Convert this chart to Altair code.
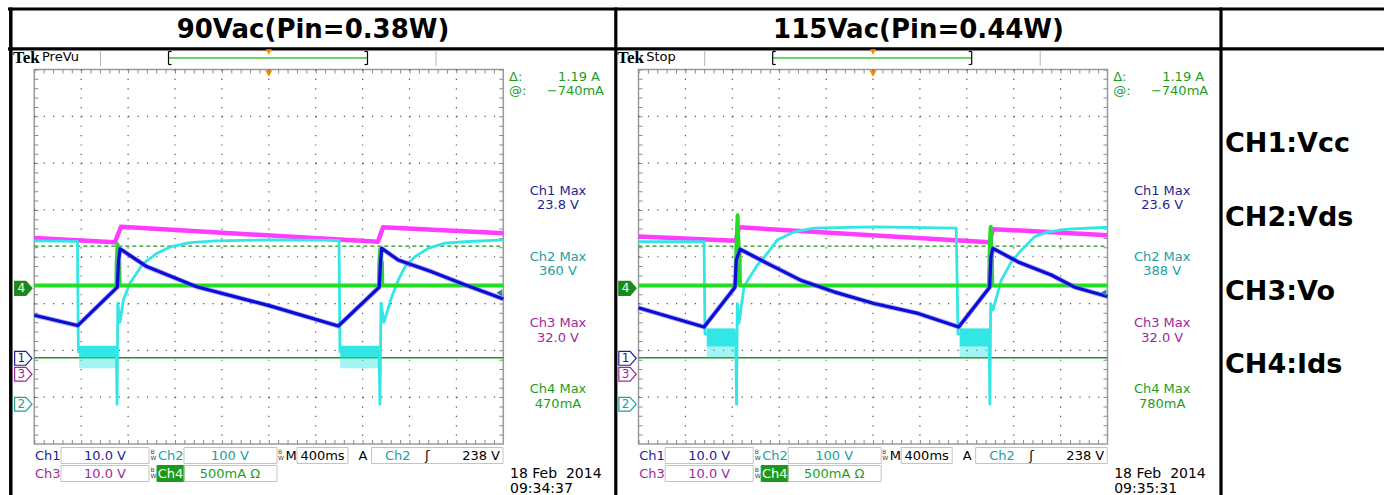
import altair as alt
import pandas as pd

W, H = 1384, 495

SANS = "DejaVu Sans"
SERIF = "Liberation Serif"

# ---------------------------------------------------------------- scope setup
T_SPAN = [-2000, 2000]                       # ms, 400 ms/div over 10 divisions
TIME_PER_DIV_MS = 400
GRID_T = [-1600, -1200, -800, -400, 0, 400, 800, 1200, 1600]
GRID_DIV = [-3, -2, -1, 0, 1, 2, 3]
CH_PER_DIV = {"ch1": 10, "ch2": 100, "ch3": 10, "ch4": 500}        # V/div (ch4: mA/div)
CH_GROUND = {"ch1": -2.17, "ch2": -3.15, "ch3": -2.51, "ch4": -0.675}  # divisions from centre
TRIG_LEVEL_V = 238
CURSOR_AT_MA = -740
CURSOR_DELTA_MA = 1190

TITLES = ["90Vac(Pin=0.38W)", "115Vac(Pin=0.44W)"]
STATUS = ["PreVu", "Stop"]
STAMP_DATE = ["18 Feb\u00a0 2014", "18 Feb\u00a0 2014"]
STAMP_TIME = ["09:34:37", "09:35:31"]
MAX_VALUES = [["23.8 V", "360 V", "32.0 V", "470mA"],
              ["23.6 V", "388 V", "32.0 V", "780mA"]]
LEGEND = ["CH1:Vcc", "CH2:Vds", "CH3:Vo", "CH4:Ids"]

# ---------------------------------------------------------------- 90 Vac traces
P1_CH1_T = [-2000, -1630, -1292, -1282, -1269, -1041, -615, 10, 593, 942, 953, 963, 1104, 1389, 1673, 2000]
P1_CH1_V = [9.2, 7.0, 15.2, 20.6, 23.4, 19.6, 15.3, 11.2, 6.9, 15.2, 20.6, 23.5, 21.0, 18.5, 15.7, 12.7]

P1_CH2_T = [-2000, -1632, -1624, -1300, -1294, -1288, -1269, -1241, -1184, -1070, -956, -843, -672, -444,
            10, 599, 607, 940, 948, 957, 982, 1048, 1104, 1162, 1247, 1360, 1503, 1673, 2000]
P1_CH2_V = [349, 348, 112, 112, 0, 216, 175, 222, 259, 301, 322, 336, 345, 349,
            351, 350, 112, 112, 0, 216, 175, 229, 265, 294, 315, 333, 344, 347, 351]
P1_BURST_START = [-1618, 609]
P1_BURST_END = [-1298, 944]
P1_BURST_HI, P1_BURST_MID, P1_BURST_LO = 125, 101, 77

P1_CH3_T = [-2000, -1312, -1261, 931, 974, 2000]
P1_CH3_V = [29.1, 28.2, 31.5, 28.3, 31.4, 30.1]

P1_CH4_T = [-2000, -1300, -1297, -1290, -1284, -1275, -1272, 940, 943, 950, 957, 965, 968, 2000]
P1_CH4_MA = [30, 30, 280, 470, 280, 280, 30, 30, 280, 420, 280, 280, 30, 30]

# ---------------------------------------------------------------- 115 Vac traces
P2_CH1_T = [-2000, -1441, -1177, -1166, -1134, -902, -617, -333, 9, 384, 731, 995, 1006, 1023, 1237, 1521, 1720, 2000]
P2_CH1_V = [10.8, 6.7, 15.2, 21.0, 23.3, 20.3, 16.7, 14.2, 11.7, 9.6, 6.7, 15.2, 21.7, 23.5, 20.6, 17.8, 15.2, 13.2]

P2_CH2_T = [-2000, -1441, -1433, -1171, -1164, -1157, -1143, -1100, -1058, -987, -902, -816, -674, -503,
            9, 710, 725, 990, 997, 1004, 1023, 1094, 1180, 1265, 1379, 1493, 1663, 2000]
P2_CH2_V = [347, 347, 150, 150, 0, 215, 173, 251, 269, 297, 322, 351, 368, 376,
            379, 376, 150, 150, 0, 215, 201, 265, 304, 329, 358, 368, 374, 378]
P2_BURST_START = [-1418, 739]
P2_BURST_END = [-1171, 995]
P2_BURST_HI, P2_BURST_MID, P2_BURST_LO = 162, 123, 100

P2_CH3_T = [-2000, -1171, -1143, 995, 1023, 2000]
P2_CH3_V = [29.4, 28.5, 31.4, 28.2, 31.0, 29.7]

P2_CH4_T = [-2000, -1170, -1166, -1155, -1145, -1138, -1135, 990, 994, 1003, 1010, 1014, 1017, 2000]
P2_CH4_MA = [30, 30, 400, 780, 400, 400, 30, 30, 350, 655, 350, 350, 30, 30]

PANELS = [
    dict(ch1=(P1_CH1_T, P1_CH1_V), ch2=(P1_CH2_T, P1_CH2_V), ch3=(P1_CH3_T, P1_CH3_V),
         ch4=(P1_CH4_T, P1_CH4_MA), burst=(P1_BURST_START, P1_BURST_END, P1_BURST_HI, P1_BURST_MID, P1_BURST_LO)),
    dict(ch1=(P2_CH1_T, P2_CH1_V), ch2=(P2_CH2_T, P2_CH2_V), ch3=(P2_CH3_T, P2_CH3_V),
         ch4=(P2_CH4_T, P2_CH4_MA), burst=(P2_BURST_START, P2_BURST_END, P2_BURST_HI, P2_BURST_MID, P2_BURST_LO)),
]

# ---------------------------------------------------------------- layout & colours
GRAT_TOP, GRAT_BOT = 69.5, 444.0
PANEL_LEFT = [34.3, 638.5]
PANEL_WIDTH = 469.0
COL_CENTERS = [313.0, 918.5]

C1, C1_HALO, C2, C3, C4 = "#0c0cd8", "#7878f0", "#33e6e6", "#ff3cff", "#22dd22"
T1, T2, T3, T4 = "#1e1e96", "#22a0a0", "#a0289e", "#1e9e1e"
CURSOR = "#179a17"
BOX = "#c4c4c4"
TAG = "M-1,-0.8 L0.3,-0.8 L1,0 L0.3,0.8 L-1,0.8 Z"

ONE = pd.DataFrame({"k": [0]})
DIV_SCALE = alt.Scale(domain=[-4, 4], range=[GRAT_BOT, GRAT_TOP], nice=False, zero=False)


def y_scale(ch):
    g, s = CH_GROUND[ch], CH_PER_DIV[ch]
    return alt.Scale(domain=[(-4 - g) * s, (4 - g) * s], range=[GRAT_BOT, GRAT_TOP], nice=False, zero=False)


def text(s, x, y, size=13, color="black", align="left", font=SANS, weight="normal"):
    return alt.Chart(pd.DataFrame({"s": [s]})).mark_text(
        align=align, baseline="middle", fontSize=size, font=font, fontWeight=weight, color=color
    ).encode(x=alt.value(x), y=alt.value(y), text="s:N")


def hline(x0, x1, y, color, width=1.0, dash=None):
    kw = dict(color=color, strokeWidth=width)
    if dash:
        kw["strokeDash"] = dash
    return alt.Chart(ONE).mark_rule(**kw).encode(x=alt.value(x0), x2=alt.value(x1), y=alt.value(y))


def vline(x, y0, y1, color, width=1.0, dash=None):
    kw = dict(color=color, strokeWidth=width)
    if dash:
        kw["strokeDash"] = dash
    return alt.Chart(ONE).mark_rule(**kw).encode(x=alt.value(x), y=alt.value(y0), y2=alt.value(y1))


def box(x0, x1, y0, y1, stroke, fill=None, width=1.0):
    kw = dict(stroke=stroke, strokeWidth=width)
    if fill:
        kw.update(fill=fill, fillOpacity=1)
    else:
        kw.update(fillOpacity=0)
    return alt.Chart(ONE).mark_rect(**kw).encode(
        x=alt.value(x0), x2=alt.value(x1), y=alt.value(y0), y2=alt.value(y1))


def bw_flag(x, y):
    # small stacked "B"/"W" bandwidth-limit flag
    return [text("B", x, y - 3.5, size=6, color="#404040", align="center"),
            text("W", x + 1, y + 2.5, size=6, color="#404040", align="center")]


def trace(xs, ch, t, v, color, width, opacity=1.0):
    df = pd.DataFrame({"t": t, "v": v})
    return alt.Chart(df).mark_line(color=color, strokeWidth=width, opacity=opacity,
                                   strokeJoin="round", interpolate="linear").encode(
        x=alt.X("t:Q", scale=xs, axis=None),
        y=alt.Y("v:Q", scale=y_scale(ch), axis=None),
    )


layers = []

# ---------------------------------------------------------------- table frame
layers += [
    hline(8, W, 9, "black", 3.2),
    hline(8, W, 48.8, "black", 3.2),
    vline(10.8, 7.5, H, "black", 3.5),
    vline(615.8, 7.5, H, "black", 3.2),
    vline(1221, 7.5, H, "black", 3.2),
]
for i, title in enumerate(TITLES):
    layers.append(text(title, COL_CENTERS[i], 29.5, size=26, align="center", weight="bold"))
for k, lab in enumerate(LEGEND):
    layers.append(text(lab, 1225, 144 + 73.8 * k, size=27, weight="bold"))


# ---------------------------------------------------------------- one scope screen
def panel(i, d):
    dx = PANEL_LEFT[i] - PANEL_LEFT[0]
    x0 = PANEL_LEFT[i]
    x1 = x0 + PANEL_WIDTH
    xs = alt.Scale(domain=T_SPAN, range=[x0, x1], nice=False, zero=False)
    L = []

    # status bar
    L.append(text("Tek", 13 + dx, 57.5, size=17, font=SERIF, weight="bold"))
    L.append(text(STATUS[i], 42 + dx, 57, size=13))
    L.append(vline(100.5 + dx, 50.5, 66, "#b4b4b4"))
    L.append(vline(436 + dx, 50.5, 66, "#b4b4b4"))
    L.append(hline(169 + dx, 367 + dx, 58, "#6fcf6f", 2))
    for bx, sx in ((168.5, 171.5), (367.5, 364.5)):
        L.append(vline(bx + dx, 51.5, 64.5, "black", 1.2))
        L.append(hline(bx + dx, sx + dx, 51.5, "black", 1.2))
        L.append(hline(bx + dx, sx + dx, 64.5, "black", 1.2))
    trig = alt.Chart(pd.DataFrame({"t": [0]}))
    L.append(trig.mark_point(shape="triangle-down", filled=True, color="#ff8a00", size=40, opacity=1)
             .encode(x=alt.X("t:Q", scale=xs, axis=None), y=alt.value(52)))
    L.append(trig.mark_point(shape="triangle-down", filled=True, color="#ff8a00", size=55, opacity=1)
             .encode(x=alt.X("t:Q", scale=xs, axis=None), y=alt.value(GRAT_TOP + 4)))

    # graticule
    L.append(box(x0, x1, GRAT_TOP, GRAT_BOT, "#9a9a9a", width=1.5))
    L.append(hline(x0, x1, GRAT_TOP + 2, "#8a8a8a", 4, dash=[1, 8.38]))
    L.append(hline(x0, x1, GRAT_BOT - 2, "#8a8a8a", 4, dash=[1, 8.38]))
    L.append(vline(x0 + 2, GRAT_TOP, GRAT_BOT, "#8a8a8a", 4, dash=[1, 8.36]))
    L.append(vline(x1 - 2, GRAT_TOP, GRAT_BOT, "#8a8a8a", 4, dash=[1, 8.36]))
    L.append(alt.Chart(pd.DataFrame({"t": GRID_T})).mark_rule(color="#505050", strokeWidth=1.2, strokeDash=[1.2, 8.16])
             .encode(x=alt.X("t:Q", scale=xs, axis=None), y=alt.value(GRAT_TOP), y2=alt.value(GRAT_BOT)))
    L.append(alt.Chart(pd.DataFrame({"d": GRID_DIV})).mark_rule(color="#505050", strokeWidth=1.2, strokeDash=[1.2, 8.18])
             .encode(y=alt.Y("d:Q", scale=DIV_SCALE, axis=None), x=alt.value(x0), x2=alt.value(x1)))

    # current cursors on Ch4
    L.append(alt.Chart(pd.DataFrame({"ma": [CURSOR_AT_MA]})).mark_rule(color=CURSOR, strokeWidth=1.5)
             .encode(y=alt.Y("ma:Q", scale=y_scale("ch4"), axis=None), x=alt.value(x0), x2=alt.value(x1)))
    L.append(alt.Chart(pd.DataFrame({"ma": [CURSOR_AT_MA + CURSOR_DELTA_MA]}))
             .mark_rule(color=CURSOR, strokeWidth=1.2, strokeDash=[4, 3])
             .encode(y=alt.Y("ma:Q", scale=y_scale("ch4"), axis=None), x=alt.value(x0), x2=alt.value(x1)))

    # traces
    L.append(trace(xs, "ch3", *d["ch3"], C3, 4.5))
    b0, b1, hi, mid, lo = d["burst"]
    bursts = pd.DataFrame({"t0": b0, "t1": b1, "hi": [hi] * len(b0), "mid": [mid] * len(b0), "lo": [lo] * len(b0)})
    L.append(alt.Chart(bursts).mark_rect(color=C2, opacity=1).encode(
        x=alt.X("t0:Q", scale=xs, axis=None), x2="t1:Q",
        y=alt.Y("hi:Q", scale=y_scale("ch2"), axis=None), y2="mid:Q"))
    L.append(alt.Chart(bursts).mark_rect(color=C2, opacity=0.45).encode(
        x=alt.X("t0:Q", scale=xs, axis=None), x2="t1:Q",
        y=alt.Y("mid:Q", scale=y_scale("ch2"), axis=None), y2="lo:Q"))
    L.append(trace(xs, "ch2", *d["ch2"], C2, 2.8))
    L.append(trace(xs, "ch4", *d["ch4"], C4, 4))
    L.append(trace(xs, "ch1", *d["ch1"], C1_HALO, 5, 0.6))
    L.append(trace(xs, "ch1", *d["ch1"], C1, 3.2))

    # channel ground markers
    for ch, lab, stroke, fill, tcol in (("ch4", "4", "#1a8a1a", "#1a8a1a", "white"),
                                        ("ch1", "1", T1, "white", T1),
                                        ("ch3", "3", T3, "white", T3),
                                        ("ch2", "2", T2, "white", T2)):
        g = alt.Chart(pd.DataFrame({"v": [0], "s": [lab]})).encode(
            x=alt.value(x0 - 11), y=alt.Y("v:Q", scale=y_scale(ch), axis=None))
        L.append(g.mark_point(shape=TAG, size=300, filled=True, color=fill, stroke=stroke,
                              strokeWidth=1.2, opacity=1))
        L.append(g.mark_text(fontSize=12, font=SANS, color=tcol, dx=-2, baseline="middle").encode(text="s:N"))

    # trigger level marker
    L.append(alt.Chart(pd.DataFrame({"v": [TRIG_LEVEL_V]})).mark_point(
        shape="triangle-left", filled=True, color="#1d8d8d", size=45, opacity=1).encode(
        x=alt.value(x1 - 4), y=alt.Y("v:Q", scale=y_scale("ch2"), axis=None)))

    # cursor readout
    L.append(text("\u0394:", 509 + dx, 76.5, color=T4))
    L.append(text(f"{CURSOR_DELTA_MA / 1000:.2f} A", 600 + dx, 76.5, color=T4, align="right"))
    L.append(text("@:", 509 + dx, 91, color=T4))
    L.append(text(f"\u2212{abs(CURSOR_AT_MA)}mA", 604 + dx, 91, color=T4, align="right"))

    # max measurements
    for k, (col, val) in enumerate(zip((T1, T2, T3, T4), MAX_VALUES[i])):
        y = 190.7 + 66.2 * k
        L.append(text(f"Ch{k + 1} Max", 558 + dx, y, color=col, align="center"))
        L.append(text(val, 558 + dx, y + 14.5, color=col, align="center"))

    # bottom settings bar
    r1, r2 = 455.5, 473.5
    L += [
        text("Ch1", 35 + dx, r1, color=T1),
        box(61 + dx, 149 + dx, 447.5, 463.5, BOX),
        text(f"{CH_PER_DIV['ch1']:.1f} V", 105 + dx, r1, color=T1, align="center"),
        text("Ch2", 158 + dx, r1, color=T2),
        box(184 + dx, 277 + dx, 447.5, 463.5, BOX),
        text(f"{CH_PER_DIV['ch2']} V", 230 + dx, r1, color=T2, align="center"),
        text("M", 285.5 + dx, r1),
        box(297 + dx, 348 + dx, 447.5, 463.5, BOX),
        text(f"{TIME_PER_DIV_MS}ms", 322.5 + dx, r1, align="center"),
        text("A", 363 + dx, r1, align="center"),
        box(371.5 + dx, 503 + dx, 447.5, 463.5, BOX),
        text("Ch2", 385 + dx, r1, color=T2),
        text("\u0283", 425 + dx, r1),
        text(f"{TRIG_LEVEL_V} V", 500 + dx, r1, align="right"),
        text("Ch3", 35 + dx, r2, color=T3),
        box(61 + dx, 149 + dx, 465.5, 481.5, BOX),
        text(f"{CH_PER_DIV['ch3']:.1f} V", 105 + dx, r2, color=T3, align="center"),
        box(157 + dx, 184 + dx, 465.5, 481.5, "#1a9a1a", fill="#1a9a1a"),
        text("Ch4", 170.5 + dx, r2, color="white", align="center"),
        box(184 + dx, 277 + dx, 465.5, 481.5, BOX),
        text(f"{CH_PER_DIV['ch4']}mA \u03a9", 230 + dx, r2, color=T4, align="center"),
        text(STAMP_DATE[i], 510 + dx, 473.5, size=14),
        text(STAMP_TIME[i], 510 + dx, 488.5, size=14),
    ]
    L += bw_flag(152.5 + dx, r1) + bw_flag(280 + dx, r1) + bw_flag(152.5 + dx, r2)
    return L


for i, d in enumerate(PANELS):
    layers += panel(i, d)

chart = (
    alt.layer(*layers)
    .resolve_scale(x="independent", y="independent")
    .properties(width=W, height=H, autosize=alt.AutoSizeParams(type="none"), padding=0, background="white")
    .configure_view(stroke=None)
)

chart.save("out.html", embed_options={"renderer": "svg", "actions": False})
